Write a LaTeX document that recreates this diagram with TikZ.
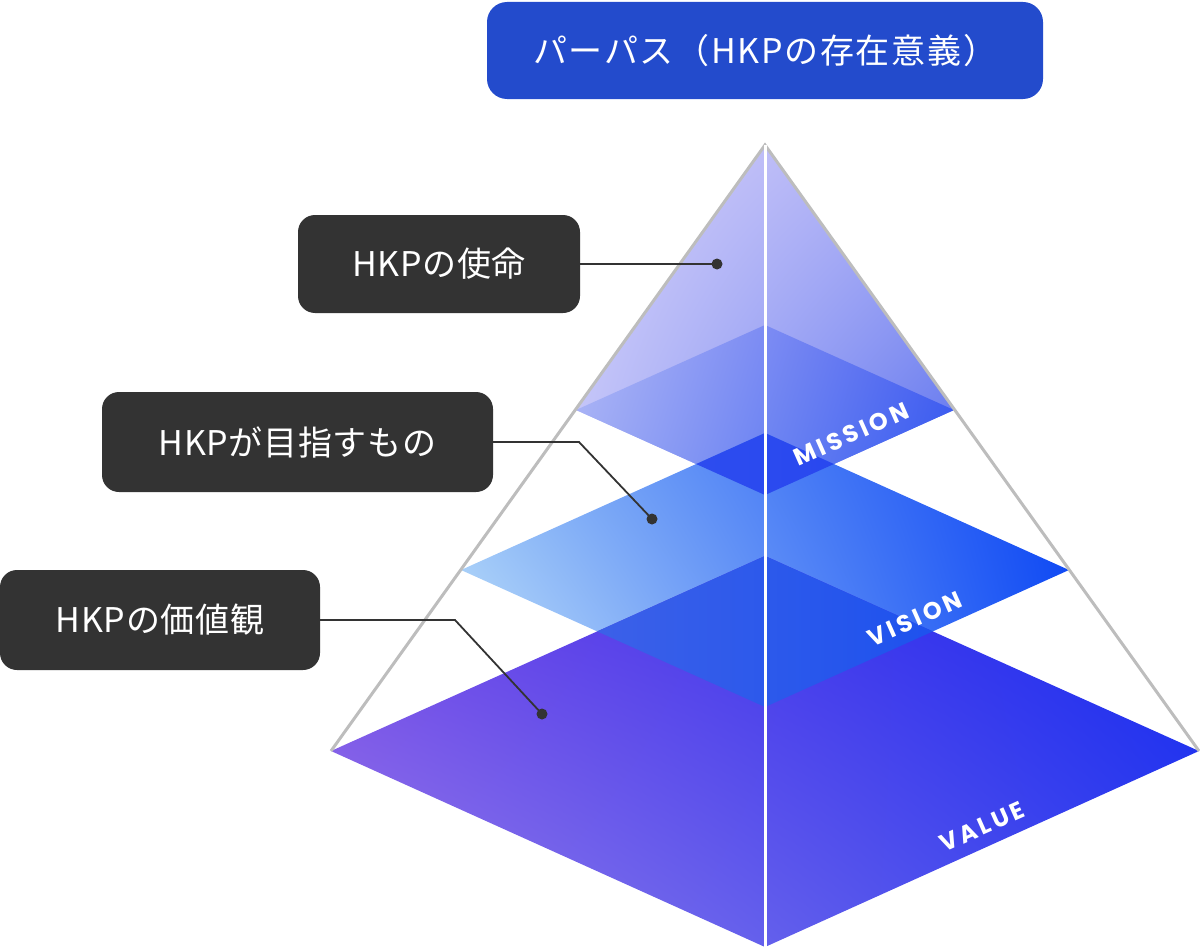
\documentclass[tikz,border=0pt]{standalone}
\usepackage{fontspec}
\usetikzlibrary{shadings}
\newfontfamily\jp[LetterSpace=2]{Noto Sans CJK JP}
\newfontfamily\jpt[LetterSpace=5]{Noto Sans CJK JP}
\newfontfamily\lat[LetterSpace=14]{Poppins}
\definecolor{boxdark}{HTML}{333333}
\definecolor{titleblue}{HTML}{234BCC}
\definecolor{edgegray}{HTML}{BDBDBD}
\definecolor{kUL}{HTML}{D4D0FA}\definecolor{kUR}{HTML}{AAACF5}
\definecolor{kLL}{HTML}{C0C2F8}\definecolor{kLR}{HTML}{5870EE}
\definecolor{mUL}{HTML}{B0B8F6}\definecolor{mUR}{HTML}{4A60F0}
\definecolor{mLL}{HTML}{A0ACF4}\definecolor{mLR}{HTML}{3058F0}
\definecolor{vUL}{HTML}{8AB8F6}\definecolor{vUR}{HTML}{0C44F4}
\definecolor{vLL}{HTML}{C6E6FA}\definecolor{vLR}{HTML}{1450F4}
\definecolor{lUL}{HTML}{7040E6}\definecolor{lUR}{HTML}{1428F0}
\definecolor{lLL}{HTML}{9880EA}\definecolor{lLR}{HTML}{3040EE}
\definecolor{ovmA}{HTML}{3454EE}\definecolor{ovmB}{HTML}{2240F0}
\definecolor{ovvA}{HTML}{4866E6}\definecolor{ovvB}{HTML}{114CF0}
\tikzset{
  labelbox/.style={fill=boxdark, rounded corners=17pt, text=white, inner sep=0pt,
    font=\jp\fontsize{34}{34}\selectfont},
  conn/.style={draw=boxdark, line width=1.8pt},
  dotmark/.style={fill=boxdark},
  layertext/.style={text=white, rotate=24, inner sep=0pt, font=\lat\bfseries\fontsize{24}{24}\selectfont}
}
\begin{document}
\begin{tikzpicture}[x=1pt,y=-1pt]
\useasboundingbox (0,0) rectangle (1200,950);
% key points
\coordinate (A) at (765,145);
\coordinate (ML) at (576,410); \coordinate (MR) at (954,410);
\coordinate (MT) at (765,325); \coordinate (MB) at (765,495);
\coordinate (VL) at (461,570); \coordinate (VR) at (1069,570);
\coordinate (VT) at (765,433); \coordinate (VB) at (765,707);
\coordinate (LL) at (331,751); \coordinate (LR) at (1199,751);
\coordinate (LT) at (765,556); \coordinate (LB) at (765,947);
% top kite
\shade[upper left=kUL, upper right=kUR, lower left=kLL, lower right=kLR]
  (A) -- (MR) -- (MB) -- (ML) -- cycle;
% mission
\shade[upper left=mUL, upper right=mUR, lower left=mLL, lower right=mLR]
  (MT) -- (MR) -- (MB) -- (ML) -- cycle;
% vision
\shade[upper left=vUL, upper right=vUR, lower left=vLL, lower right=vLR]
  (VT) -- (VR) -- (VB) -- (VL) -- cycle;
\begin{scope}
  \clip (MT) -- (MR) -- (MB) -- (ML) -- cycle;
  \shade[left color=ovmA, right color=ovmB]
    (VT) -- (VR) -- (VB) -- (VL) -- cycle;
\end{scope}
% value
\shade[upper left=lUL, upper right=lUR, lower left=lLL, lower right=lLR]
  (LT) -- (LR) -- (LB) -- (LL) -- cycle;
\begin{scope}
  \clip (LT) -- (LR) -- (LB) -- (LL) -- cycle;
  \shade[left color=ovvA, right color=ovvB]
    (VT) -- (VR) -- (VB) -- (VL) -- cycle;
\end{scope}
% pyramid edges
\draw[edgegray, line width=3pt] (LL) -- (A) -- (LR);
\draw[white, line width=3pt] (A) -- (LB);
% layer names
\node[layertext] (tmission) at (851,434) {MISSION};
\node[layertext] (tvision) at (915,619) {VISION};
\node[layertext] (tvalue) at (982,827) {VALUE};
% title
\node[fill=titleblue, rounded corners=20pt, text=white, inner sep=0pt,
      minimum width=556pt, minimum height=97pt, font=\jpt\fontsize{34}{34}\selectfont]
  (title) at (765,50.5) {パーパス（HKPの存在意義）};
% label boxes
\node[labelbox, minimum width=282pt, minimum height=98pt] (b1) at (439,264) {HKPの使命};
\node[labelbox, minimum width=391pt, minimum height=100pt] (b2) at (297.5,442) {HKPが目指すもの};
\node[labelbox, minimum width=320pt, minimum height=100pt] (b3) at (160,620) {HKPの価値観};
% connectors
\coordinate (d1) at (717,264);
\coordinate (k2) at (579,442); \coordinate (d2) at (652,519);
\coordinate (k3) at (455,620); \coordinate (d3) at (542,714);
\draw[conn] (b1.east) -- (d1);
\draw[conn] (b2.east) -- (k2) -- (d2);
\draw[conn] (b3.east) -- (k3) -- (d3);
\fill[dotmark] (d1) circle (5.5);
\fill[dotmark] (d2) circle (5.5);
\fill[dotmark] (d3) circle (5.5);
\end{tikzpicture}
\end{document}
